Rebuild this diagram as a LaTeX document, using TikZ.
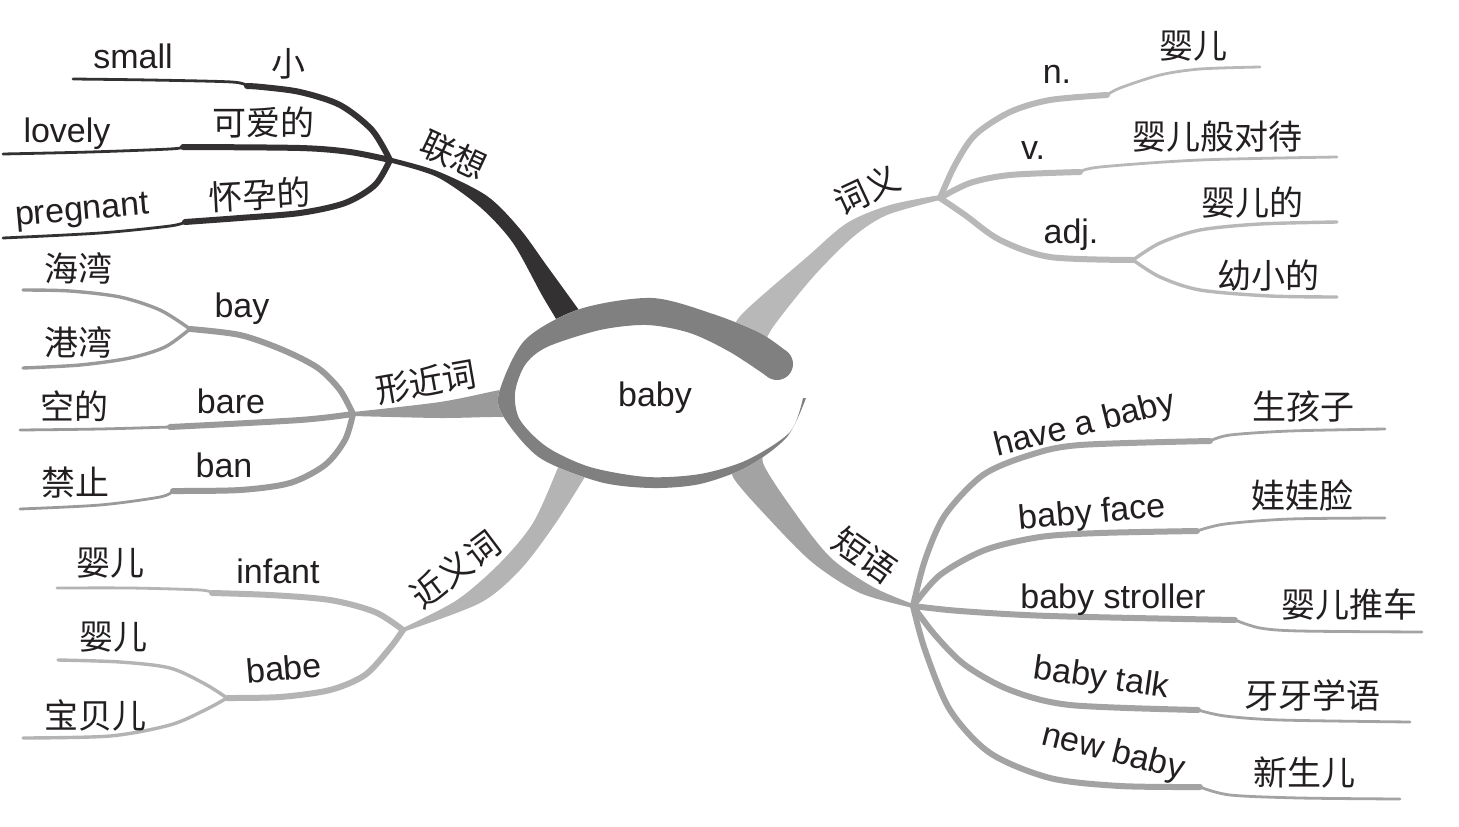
\documentclass[tikz,border=0pt]{standalone}
\usepackage{fontspec}
\setmainfont{Liberation Sans}
\newfontfamily\cjk{Noto Sans CJK SC}
\usetikzlibrary{calc}
\definecolor{cA}{HTML}{333132}
\definecolor{cB}{HTML}{9A9A9A}
\definecolor{cC}{HTML}{B4B4B4}
\definecolor{cD}{HTML}{B8B8B8}
\definecolor{cE}{HTML}{A3A3A3}
\definecolor{ringc}{HTML}{808080}
\definecolor{txt}{HTML}{231F20}
\begin{document}
\begin{tikzpicture}[x=1pt,y=-1pt,
 en/.style={font=\fontsize{34}{40}\selectfont, text=txt, inner sep=0pt, anchor=base},
 zh/.style={font=\cjk\fontsize{34}{40}\selectfont, text=txt, inner sep=0pt},
 tk/.style={line width=6pt, line cap=round, line join=round},
 tn/.style={line width=2.8pt, line cap=round, line join=round},
]
\useasboundingbox (0,0) rectangle (1459,827);
\fill[white] (0,0) rectangle (1459,827);

% hubs
\coordinate (hA) at (390,160);
\coordinate (hB) at (353,414);
\coordinate (hC) at (403,630);
\coordinate (hD) at (940,198);
\coordinate (hE) at (913,606);
% steps / ends
\coordinate (sA1) at (247,86);   \coordinate (eA1) at (73,79);
\coordinate (sA2) at (183,147);  \coordinate (eA2) at (3,154);
\coordinate (sA3) at (185,222);  \coordinate (eA3) at (3,238);
\coordinate (sB1) at (190,329);  \coordinate (eB1a) at (23,290); \coordinate (eB1b) at (23,368);
\coordinate (sB2) at (170,427);  \coordinate (eB2) at (20,430);
\coordinate (sB3) at (173,491);  \coordinate (eB3) at (20,509);
\coordinate (sC1) at (212,593);  \coordinate (eC1) at (57,588);
\coordinate (sC2) at (227,698);  \coordinate (eC2a) at (58,660); \coordinate (eC2b) at (23,738);
\coordinate (sD1) at (1107,95);  \coordinate (eD1) at (1260,67);
\coordinate (sD2) at (1080,172); \coordinate (eD2) at (1337,157);
\coordinate (sD3) at (1133,260); \coordinate (eD3a) at (1337,222); \coordinate (eD3b) at (1337,297);
\coordinate (sE1) at (1210,441); \coordinate (eE1) at (1385,429);
\coordinate (sE2) at (1197,531); \coordinate (eE2) at (1385,518);
\coordinate (sE3) at (1235,620); \coordinate (eE3) at (1422,632);
\coordinate (sE4) at (1198,710); \coordinate (eE4) at (1410,722);
\coordinate (sE5) at (1200,787); \coordinate (eE5) at (1400,799);

% ---- main tapered branches ----
\fill[cA] plot[smooth] coordinates {([yshift=2.5pt]hA) (437,171) (487,196) (520,229) (547,266) (597,335)}
  -- plot[smooth] coordinates {(572,345) (543,297) (513,243) (480,207) (437,177) ([yshift=-2.5pt]hA)} -- cycle;
\fill[cB] plot[smooth] coordinates {([yshift=2pt]hB) (440,402) (500,390) (530,386)}
  -- plot[smooth] coordinates {(530,420) (500,417) (440,418) ([yshift=-2pt]hB)} -- cycle;
\fill[cC] plot[smooth] coordinates {([yshift=2pt]hC) (457,600) (500,563) (533,523) (557,470) (562,455)}
  -- plot[smooth] coordinates {(592,462) (583,480) (553,527) (520,570) (480,603) ([yshift=-2pt]hC)} -- cycle;
\fill[cD] plot[smooth] coordinates {([yshift=3pt]hD) (890,205) (847,223) (807,257) (743,313) (728,338)}
  -- plot[smooth] coordinates {(762,350) (773,327) (813,277) (853,237) (887,215) ([yshift=-2pt]hD)} -- cycle;
\fill[cE] plot[smooth] coordinates {([yshift=2pt]hE) (873,587) (830,557) (793,510) (763,463) (770,445)}
  -- plot[smooth] coordinates {(735,455) (733,477) (770,520) (813,563) (860,593) ([yshift=-2pt]hE)} -- cycle;

% ---- sub-branches: association (dark) ----
\draw[tk,cA] plot[smooth] coordinates {(hA) (372,130) (340,105) (300,92) (262,87) (sA1)};
\draw[tn,cA] plot[smooth] coordinates {(sA1) (232,82) (150,80) (eA1)};
\draw[tk,cA] plot[smooth] coordinates {(hA) (350,152) (300,148) (sA2)};
\draw[tn,cA] plot[smooth] coordinates {(sA2) (170,149) (90,152) (eA2)};
\draw[tk,cA] plot[smooth] coordinates {(hA) (375,185) (345,203) (300,213) (240,218) (sA3)};
\draw[tn,cA] plot[smooth] coordinates {(sA3) (170,226) (100,233) (eA3)};

% ---- similar form (gray) ----
\draw[tk,cB] plot[smooth] coordinates {(hB) (340,390) (318,368) (283,350) (240,335) (sB1)};
\draw[tn,cB,line width=3.4pt] plot[smooth] coordinates {(sB1) (160,310) (120,297) (70,291) (eB1a)};
\draw[tn,cB,line width=3.4pt] plot[smooth] coordinates {(sB1) (165,347) (130,358) (80,365) (eB1b)};
\draw[tk,cB] plot[smooth] coordinates {(hB) (300,420) (sB2)};
\draw[tn,cB] plot[smooth] coordinates {(sB2) (100,429) (eB2)};
\draw[tk,cB] plot[smooth] coordinates {(hB) (345,440) (325,465) (290,483) (240,490) (sB3)};
\draw[tn,cB] plot[smooth] coordinates {(sB3) (160,497) (100,505) (eB3)};

% ---- synonyms (light gray) ----
\draw[tk,cC] plot[smooth] coordinates {(hC) (375,612) (330,600) (270,595) (sC1)};
\draw[tn,cC] plot[smooth] coordinates {(sC1) (200,590) (130,588) (eC1)};
\draw[tk,cC] plot[smooth] coordinates {(hC) (390,648) (365,675) (330,690) (280,697) (sC2)};
\draw[tn,cC,line width=3.4pt] plot[smooth] coordinates {(sC2) (205,684) (170,668) (120,662) (eC2a)};
\draw[tn,cC,line width=3.4pt] plot[smooth] coordinates {(sC2) (205,710) (170,725) (110,736) (eC2b)};

% ---- meanings (light gray) ----
\draw[tk,cD] plot[smooth] coordinates {(hD) (955,165) (975,135) (1010,112) (1050,100) (sD1)};
\draw[tn,cD] plot[smooth] coordinates {(sD1) (1120,88) (1160,75) (1200,69) (eD1)};
\draw[tk,cD] plot[smooth] coordinates {(hD) (970,183) (1010,175) (sD2)};
\draw[tn,cD] plot[smooth] coordinates {(sD2) (1100,167) (1200,160) (eD2)};
\draw[tk,cD] plot[smooth] coordinates {(hD) (965,215) (1000,240) (1050,257) (sD3)};
\draw[tn,cD,line width=3.4pt] plot[smooth] coordinates {(sD3) (1160,243) (1200,230) (1260,224) (eD3a)};
\draw[tn,cD,line width=3.4pt] plot[smooth] coordinates {(sD3) (1160,277) (1200,290) (1270,296) (eD3b)};

% ---- phrases (gray) ----
\draw[tk,cE] plot[smooth] coordinates {(hE) (925,560) (945,515) (983,475) (1030,455) (1080,445) (sE1)};
\draw[tn,cE] plot[smooth] coordinates {(sE1) (1230,435) (1290,431) (eE1)};
\draw[tk,cE] plot[smooth] coordinates {(hE) (940,575) (985,550) (1040,537) (1100,533) (sE2)};
\draw[tn,cE] plot[smooth] coordinates {(sE2) (1225,524) (1290,519) (eE2)};
\draw[tk,cE] plot[smooth] coordinates {(hE) (960,611) (1050,616) (sE3)};
\draw[tn,cE] plot[smooth] coordinates {(sE3) (1260,628) (1300,631) (eE3)};
\draw[tk,cE] plot[smooth] coordinates {(hE) (935,635) (965,665) (1010,690) (1070,705) (sE4)};
\draw[tn,cE] plot[smooth] coordinates {(sE4) (1225,716) (1280,720) (eE4)};
\draw[tk,cE] plot[smooth] coordinates {(hE) (925,650) (950,710) (990,753) (1050,778) (1120,786) (sE5)};
\draw[tn,cE] plot[smooth] coordinates {(sE5) (1230,795) (1300,798) (eE5)};

% ---- central ellipse ----
\fill[white] plot[smooth] coordinates {(786,351) (760,333) (713,314) (652,298) (580,309) (525,340) (499,393) (505,419) (540,458) (600,482) (652,488) (700,484) (747,467) (787,437) (806,398)} -- cycle;
\fill[ringc] plot[smooth] coordinates {(786,351) (760,333) (713,314) (652,298) (580,309) (525,340) (499,393) (505,419) (540,458) (600,482) (652,488) (700,484) (747,467) (787,437) (806,398)}
  -- plot[smooth] coordinates {(803,398) (790,432) (747,460) (700,474) (647,477) (590,467) (547,447) (520,420) (515,393) (525,365) (547,347) (600,330) (647,325) (690,333) (730,352) (768,377)} -- cycle;
\fill[ringc] (777,364) circle[radius=16pt];
\node[en] (baby) at (655,406) {baby};

% ---- labels ----
\node[zh,rotate=-25] (lx) at (454,155) {联想};
\node[en] (small) at (133,68) {small};
\node[zh] (xiao) at (288,64) {小};
\node[en] (lovely) at (67,142) {lovely};
\node[zh] (keai) at (263,122) {可爱的};
\node[en,rotate=5] (preg) at (83,220) {pregnant};
\node[zh,rotate=3] (huaiyun) at (260,195) {怀孕的};

\node[zh,rotate=10] (xjc) at (426,382) {形近词};
\node[en] (bay) at (242,317) {bay};
\node[zh] (haiwan) at (78,268) {海湾};
\node[zh] (gangwan) at (78,342) {港湾};
\node[en] (bare) at (231,413) {bare};
\node[zh] (kongde) at (74,406) {空的};
\node[en] (ban) at (224,477) {ban};
\node[zh] (jinzhi) at (75,483) {禁止};

\node[zh,rotate=37] (jyc) at (455,569) {近义词};
\node[en] (infant) at (278,583) {infant};
\node[zh] (yinger1) at (110,563) {婴儿};
\node[en,rotate=5] (babe) at (285,680) {babe};
\node[zh] (yinger2) at (113,637) {婴儿};
\node[zh] (baobeier) at (95,715) {宝贝儿};

\node[zh,rotate=25] (cy) at (867,190) {词义};
\node[en] (n) at (1057,83) {n.};
\node[zh] (yinger3) at (1193,46) {婴儿};
\node[en] (v) at (1033,159) {v.};
\node[zh] (duidai) at (1217,137) {婴儿般对待};
\node[en] (adj) at (1071,243) {adj.};
\node[zh] (yingerde) at (1252,203) {婴儿的};
\node[zh] (youxiao) at (1268,276) {幼小的};

\node[zh,rotate=-35] (dy) at (865,555) {短语};
\node[en,rotate=14] (hab) at (1087,434) {have a baby};
\node[zh] (shz) at (1303,407) {生孩子};
\node[en,rotate=5] (bf) at (1093,523) {baby face};
\node[zh] (wwl) at (1302,495) {娃娃脸};
\node[en] (bs) at (1113,608) {baby stroller};
\node[zh] (tuiche) at (1349,605) {婴儿推车};
\node[en,rotate=-8] (bt) at (1100,688) {baby talk};
\node[zh] (yayxy) at (1312,695) {牙牙学语};
\node[en,rotate=-14] (nb) at (1111,762) {new baby};
\node[zh] (xse) at (1304,773) {新生儿};
\end{tikzpicture}
\end{document}
